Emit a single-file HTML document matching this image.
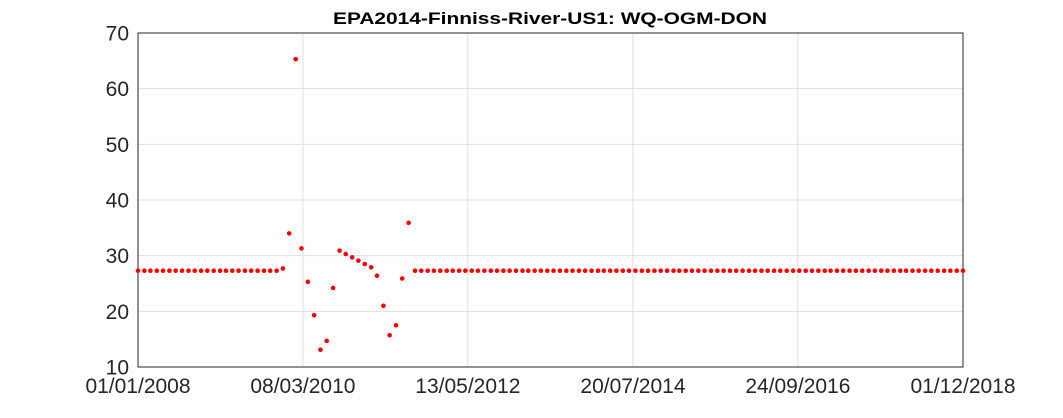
<!DOCTYPE html>
<html><head><meta charset="utf-8"><style>
body{margin:0;background:#fff;}
svg text{font-family:"Liberation Sans",Arial,sans-serif;}
</style></head><body>
<svg id="chart" width="1063" height="413" viewBox="0 0 1063 413" xmlns="http://www.w3.org/2000/svg">
<rect width="1063" height="413" fill="#fff"/>
<text x="550" y="24" text-anchor="middle" font-size="17" font-weight="bold" fill="#000" textLength="434" lengthAdjust="spacingAndGlyphs">EPA2014-Finniss-River-US1: WQ-OGM-DON</text>
<g id="grid"></g><g id="axes"></g><g id="marks"></g>
</svg>
<script>
const yTicks=[10,20,30,40,50,60,70];
const xTickLabels=["01/01/2008","08/03/2010","13/05/2012","20/07/2014","24/09/2016","01/12/2018"];
const startYear=2008, startMonth=0;
const specialValues=[27.3,27.3,27.3,27.7,34.0,65.3,31.3,25.3,19.3,13.1,14.7,24.2,30.9,30.3,29.7,29.1,28.5,27.9,26.4,21.0,15.7,17.5,25.9,35.9];
const specialStart=20;
const baseline=27.3;
const nMonths=132;
const values=[];
for(let i=0;i<nMonths;i++){const k=i-specialStart;values.push(k>=0&&k<specialValues.length?specialValues[k]:baseline);}

const L=138,R=963,T=33,B=367;
const t0=Date.UTC(2008,0,1),t1=Date.UTC(2018,11,1);
function parseD(s){const p=s.split('/');return Date.UTC(+p[2],+p[1]-1,+p[0]);}
const X=t=>L+(t-t0)/(t1-t0)*(R-L);
const Y=v=>B-(v-10)/60*(B-T);
const NS="http://www.w3.org/2000/svg";
function mk(tag,attrs,parent,txt){const e=document.createElementNS(NS,tag);for(const k in attrs)e.setAttribute(k,attrs[k]);if(txt!==undefined)e.textContent=txt;document.getElementById(parent).appendChild(e);return e;}
yTicks.forEach(v=>{
 const g=mk('line',{x1:L,x2:R,y1:Y(v),y2:Y(v),stroke:'#dfdfdf','stroke-width':1},'grid');
 
 
 const t=mk('text',{x:L-9,y:Y(v)+7.5,'text-anchor':'end','font-size':21,fill:'#262626'},'axes',String(v));
 
 
});
xTickLabels.forEach(s=>{
 const x=X(parseD(s));
 const g=mk('line',{x1:x,x2:x,y1:T,y2:B,stroke:'#dfdfdf','stroke-width':1},'grid');
 
 
 const t=mk('text',{x:x,y:B+26,'text-anchor':'middle','font-size':21,fill:'#262626'},'axes',s);
 
 
});
const box=mk('rect',{x:L,y:T,width:R-L,height:B-T,fill:'none',stroke:'#262626','stroke-width':1},'axes');


values.forEach((v,i)=>{
 const t=Date.UTC(startYear,startMonth+i,1);
 const c=mk('circle',{cx:X(t),cy:Y(v),r:2.3,fill:'#ff0000'},'marks');
 
 
});
</script>
</body></html>
